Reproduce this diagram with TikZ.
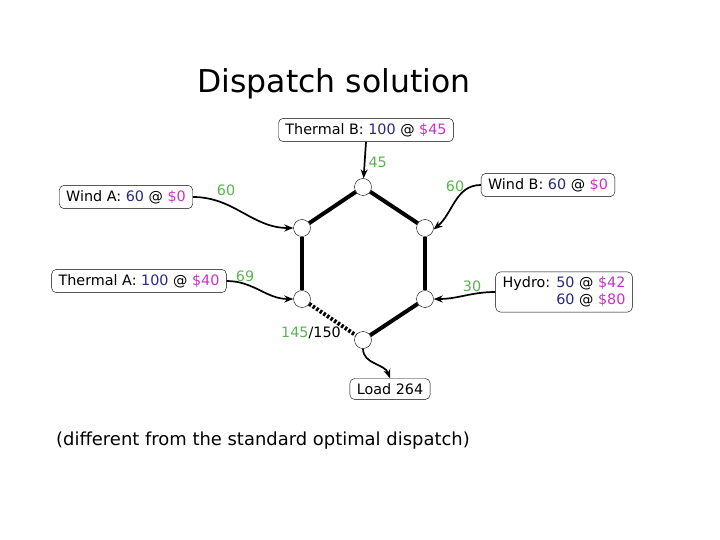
\documentclass[tikz,border=0pt]{standalone}
\usepackage{fontspec}
\setmainfont{DejaVu Sans}
\usetikzlibrary{arrows.meta, positioning}

\definecolor{qty}{RGB}{40,40,130}
\definecolor{price}{RGB}{200,50,200}
\definecolor{flow}{RGB}{90,180,80}
\newcommand{\offer}[2]{\textcolor{qty}{#1} @ \textcolor{price}{\$#2}}

\begin{document}
\begin{tikzpicture}[x=1bp, y=-1bp, >={Stealth[length=9bp, width=7bp]},
    bus/.style={circle, draw, fill=white, minimum size=17bp, inner sep=0pt},
    unit/.style={draw, rounded corners=5bp, inner xsep=7bp, inner ysep=5bp, font=\fontsize{14.4}{17}\selectfont},
    line/.style={line width=4bp},
    feed/.style={->, line width=1.7bp},
    flowlbl/.style={text=flow, font=\fontsize{14.4}{17}\selectfont}]
    \useasboundingbox (0,0) rectangle (720,540);

    \node[font=\fontsize{31.6}{36}\selectfont] (title) at (334,84) {Dispatch solution};

    % buses
    \node[bus] (n1) at (363,187) {};
    \node[bus] (n2) at (302,228) {};
    \node[bus] (n3) at (425,228) {};
    \node[bus] (n4) at (302,299) {};
    \node[bus] (n5) at (425,299) {};
    \node[bus] (n6) at (363,340) {};

    \draw[line] (n1) -- (n2);
    \draw[line] (n1) -- (n3);
    \draw[line] (n2) -- (n4);
    \draw[line] (n3) -- (n5);
    \draw[line] (n5) -- (n6);
    \draw[line, dash pattern=on 2.5bp off 1.8bp] (n4) -- (n6);

    % generators and load
    \node[unit] (tb) at (366,130) {Thermal B: \offer{100}{45}};
    \node[unit] (wa) at (126,197) {Wind A: \offer{60}{0}};
    \node[unit] (wb) at (548,185) {Wind B: \offer{60}{0}};
    \node[unit] (ta) at (139,281) {Thermal A: \offer{100}{40}};
    \node[unit, align=right] (hy) at (564,292) {Hydro: \offer{50}{42}\\\offer{60}{80}};
    \node[unit] (load) at (390,389) {Load 264};

    \draw[feed] (tb.south) -- (n1);
    \draw[feed] (wa.east) to[out=0, in=180] (n2.west);
    \draw[feed] (wb.west) to[out=180, in=40] (n3.-10);
    \draw[feed] (ta.east) to[out=0, in=180] (n4.west);
    \draw[feed] (hy.west) to[out=180, in=0] (n5.east);
    \draw[feed] (n6.south) to[out=-90, in=110] (load.north);

    % flows
    \node[flowlbl, anchor=west] (ftb) at (365,162) {45};
    \node[flowlbl] (fwa) at (226,190) {60};
    \node[flowlbl] (fwb) at (455,186) {60};
    \node[flowlbl] (fta) at (245,276) {69};
    \node[flowlbl] (fhy) at (472,286) {30};
    \node[font=\fontsize{14.4}{17}\selectfont] (fl46) at (311,333) {\textcolor{flow}{145}/150};

    \node[font=\fontsize{18}{22}\selectfont] (note) at (263,441) {(different from the standard optimal dispatch)};
\end{tikzpicture}
\end{document}
